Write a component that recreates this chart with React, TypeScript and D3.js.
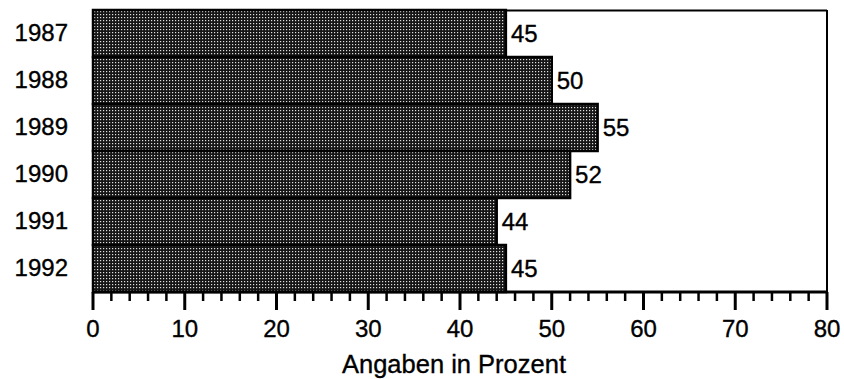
import React, { useEffect, useRef } from 'react';
import * as d3 from 'd3';

const years = ['1987', '1988', '1989', '1990', '1991', '1992'];
const values = [45, 50, 55, 52, 44, 45];
const xTicks = [0, 10, 20, 30, 40, 50, 60, 70, 80];
const axisTitle = 'Angaben in Prozent';

export default function App() {
  const ref = useRef<SVGSVGElement | null>(null);

  useEffect(() => {
    const svgEl = ref.current;
    if (!svgEl) return;
    const svg = d3.select(svgEl);
    svg.selectAll('*').remove();

    const width = 844;
    const height = 379;
    const margin = { top: 10, right: 17, bottom: 87, left: 93 };
    const innerW = width - margin.left - margin.right;
    const innerH = height - margin.top - margin.bottom;
    const font = 'Liberation Sans, Arial, Helvetica, sans-serif';

    // stipple fill like the print
    const defs = svg.append('defs');
    const pat = defs.append('pattern')
      .attr('id', 'stipple')
      .attr('patternUnits', 'userSpaceOnUse')
      .attr('width', 3)
      .attr('height', 3);
    pat.append('rect').attr('width', 3).attr('height', 3).attr('fill', '#161616');
    pat.append('rect').attr('x', 1).attr('y', 1).attr('width', 1.2).attr('height', 1.2).attr('fill', '#e0e0e0');

    const g = svg.append('g').attr('transform', `translate(${margin.left},${margin.top})`);

    const x = d3.scaleLinear().domain([0, 80]).range([0, innerW]);
    const y = d3.scaleBand().domain(years).range([0, innerH]).padding(0);

    const txt = (sel: any, size = 24) =>
      sel.attr('font-family', font)
        .attr('font-size', size)
        .attr('fill', '#000')
        .attr('stroke', '#000')
        .attr('stroke-width', 0.35);

    // frame: top and right
    g.append('line').attr('x1', 0).attr('x2', innerW).attr('y1', 0.5).attr('y2', 0.5)
      .attr('stroke', '#000').attr('stroke-width', 2);
    g.append('line').attr('x1', innerW).attr('x2', innerW).attr('y1', 0).attr('y2', innerH)
      .attr('stroke', '#000').attr('stroke-width', 2);

    g.selectAll('rect.bar')
      .data(values)
      .enter()
      .append('rect')
      .attr('class', 'bar')
      .attr('x', 0)
      .attr('y', (_, i) => y(years[i]) as number)
      .attr('width', d => x(d))
      .attr('height', y.bandwidth())
      .attr('fill', 'url(#stipple)')
      .attr('stroke', '#000')
      .attr('stroke-width', 2.5);

    txt(g.selectAll('text.val')
      .data(values)
      .enter()
      .append('text')
      .attr('class', 'val')
      .attr('x', d => x(d) + 5)
      .attr('y', (_, i) => (y(years[i]) as number) + y.bandwidth() / 2)
      .attr('dy', '0.36em')
      .text(d => String(d)));

    txt(g.selectAll('text.year')
      .data(years)
      .enter()
      .append('text')
      .attr('class', 'year')
      .attr('x', -25)
      .attr('y', d => (y(d) as number) + y.bandwidth() / 2)
      .attr('dy', '0.33em')
      .attr('text-anchor', 'end')
      .text(d => d));

    // x axis
    const ax = g.append('g').attr('transform', `translate(0,${innerH})`);
    ax.append('line').attr('x1', 0).attr('x2', innerW).attr('y1', 0).attr('y2', 0)
      .attr('stroke', '#000').attr('stroke-width', 3);
    const minor = d3.range(0, 81, 2).filter(v => v % 10 !== 0);
    ax.selectAll('line.minor')
      .data(minor)
      .enter()
      .append('line')
      .attr('x1', d => x(d)).attr('x2', d => x(d))
      .attr('y1', 0).attr('y2', 9)
      .attr('stroke', '#000').attr('stroke-width', 2.5);
    ax.selectAll('line.major')
      .data(xTicks)
      .enter()
      .append('line')
      .attr('x1', d => x(d)).attr('x2', d => x(d))
      .attr('y1', 0).attr('y2', 18)
      .attr('stroke', '#000').attr('stroke-width', 3);
    txt(ax.selectAll('text.tick')
      .data(xTicks)
      .enter()
      .append('text')
      .attr('x', d => x(d))
      .attr('y', 45)
      .attr('text-anchor', 'middle')
      .text(d => String(d)));

    txt(g.append('text')
      .attr('x', innerW / 2 - 6)
      .attr('y', innerH + 81)
      .attr('text-anchor', 'middle')
      .text(axisTitle), 25.5);
  }, []);

  return (
    <svg
      ref={ref}
      width={844}
      height={379}
      style={{ position: 'absolute', left: 0, top: 0, background: '#fff' }}
    />
  );
}
